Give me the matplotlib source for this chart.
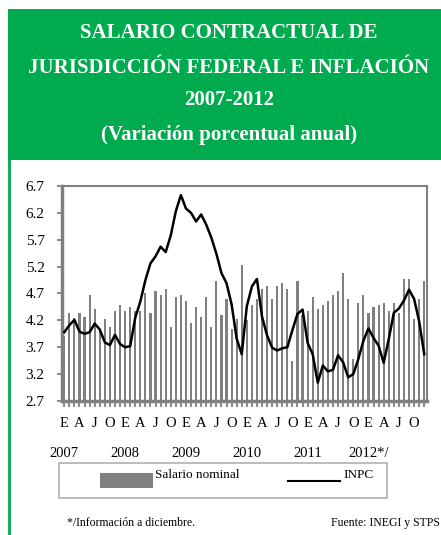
import numpy as np
import matplotlib
matplotlib.use("Agg")
import matplotlib.pyplot as plt
from matplotlib.patches import Rectangle
from matplotlib.lines import Line2D
import matplotlib.transforms as mtransforms

plt.rcParams['font.family'] = ['Liberation Serif', 'DejaVu Serif']

# monthly data, Jan 2007 - Dec 2012
salario = [3.90, 4.34, 4.25, 4.34, 4.26, 4.68, 4.41, 4.00, 4.23, 4.08, 4.38, 4.49,
           4.38, 4.45, 4.37, 4.38, 4.71, 4.34, 4.75, 4.67, 4.78, 4.08, 4.63, 4.67,
           4.56, 4.16, 4.45, 4.26, 4.63, 4.08, 4.93, 4.30, 4.60, 4.04, 4.23, 5.23,
           4.20, 4.49, 4.60, 4.78, 4.83, 4.60, 4.83, 4.90, 4.78, 3.45, 4.93, 4.30,
           4.37, 4.63, 4.41, 4.49, 4.56, 4.68, 4.75, 5.08, 4.60, 3.48, 4.52, 4.67,
           4.34, 4.45, 4.49, 4.52, 4.37, 4.52, 4.34, 4.97, 4.97, 4.23, 4.60, 4.93]
inpc = [3.98, 4.11, 4.21, 3.99, 3.95, 3.98, 4.14, 4.03, 3.79, 3.74, 3.93, 3.76,
        3.70, 3.72, 4.25, 4.55, 4.95, 5.26, 5.39, 5.57, 5.47, 5.78, 6.23, 6.53,
        6.28, 6.20, 6.04, 6.17, 5.98, 5.74, 5.44, 5.08, 4.89, 4.50, 3.86, 3.57,
        4.46, 4.83, 4.97, 4.27, 3.92, 3.69, 3.64, 3.68, 3.70, 4.02, 4.32, 4.40,
        3.78, 3.57, 3.04, 3.36, 3.25, 3.28, 3.55, 3.42, 3.14, 3.20, 3.48, 3.82,
        4.05, 3.87, 3.73, 3.41, 3.85, 4.34, 4.42, 4.57, 4.77, 4.60, 4.18, 3.57]
month_labels = ['E', 'A', 'J', 'O']
years = ['2007', '2008', '2009', '2010', '2011', '2012*/']
yticks = [2.7, 3.2, 3.7, 4.2, 4.7, 5.2, 5.7, 6.2, 6.7]

green = '#00AB4F'
gray = '#808080'

fig = plt.figure(figsize=(4.41, 5.35), dpi=100)

# green header + left border
fig.patches.append(Rectangle((0.018, 0.701), 0.982, 0.282, transform=fig.transFigure,
                             facecolor=green, edgecolor='none'))
fig.lines.append(Line2D([0.0204, 0.0204], [0, 0.701], transform=fig.transFigure,
                        color=green, lw=2))

title_lines = ['SALARIO CONTRACTUAL DE', 'JURISDICCIÓN FEDERAL E INFLACIÓN',
               '2007-2012', '(Variación porcentual anual)']
for txt, yy in zip(title_lines, [0.938, 0.873, 0.813, 0.748]):
    fig.text(0.519, yy, txt, ha='center', va='center', color='white',
             fontsize=15, fontweight='bold')

ax = fig.add_axes([0.1406, 0.2505, 0.8277, 0.4019])
x = np.arange(len(salario))
ax.bar(x, salario, width=0.42, color=gray, zorder=1)
ax.plot(x, inpc, color='black', lw=1.8, zorder=3)

ax.set_xlim(-0.45, len(salario) - 0.45)
ax.set_ylim(2.7, 6.7)
ax.set_yticks(yticks)
ax.set_yticklabels([f'{v:.1f}' for v in yticks], fontsize=11)

ax.set_xticks(x, minor=False)
ax.set_xticklabels([month_labels[(i // 3) % 4] if i % 3 == 0 else '' for i in x], fontsize=10.5)
ax.tick_params(axis='x', length=4.5, width=1.3, color=gray, pad=7)
ax.tick_params(axis='y', length=3.5, width=1.3, color=gray, pad=9)

for side in ['left', 'bottom']:
    ax.spines[side].set_color(gray)
    ax.spines[side].set_linewidth(2.5)
for side in ['top', 'right']:
    ax.spines[side].set_color(gray)
    ax.spines[side].set_linewidth(1.5)

trans = mtransforms.blended_transform_factory(ax.transData, ax.transAxes)
for i, yr in enumerate(years):
    ax.text(i * 12, -0.245, yr, transform=trans, ha='center', va='center', fontsize=10.5)

# legend box
fig.patches.append(Rectangle((0.134, 0.0692), 0.744, 0.0654, transform=fig.transFigure,
                             facecolor='white', edgecolor='#b0b0b0', lw=1.2))
fig.patches.append(Rectangle((0.2268, 0.0879), 0.12, 0.028, transform=fig.transFigure,
                             facecolor=gray, edgecolor='none'))
fig.text(0.3515, 0.1121, 'Salario nominal', ha='left', va='center', fontsize=9.5)
fig.lines.append(Line2D([0.653, 0.771], [0.1009, 0.1009], transform=fig.transFigure,
                        color='black', lw=1.5))
fig.text(0.778, 0.1121, 'INPC', ha='left', va='center', fontsize=9.5)

fig.text(0.152, 0.0224, '*/Información a diciembre.', ha='left', va='center', fontsize=8.5)
fig.text(0.998, 0.0224, 'Fuente: INEGI y STPS', ha='right', va='center', fontsize=8.5)

fig.savefig('out.png', dpi=100)
